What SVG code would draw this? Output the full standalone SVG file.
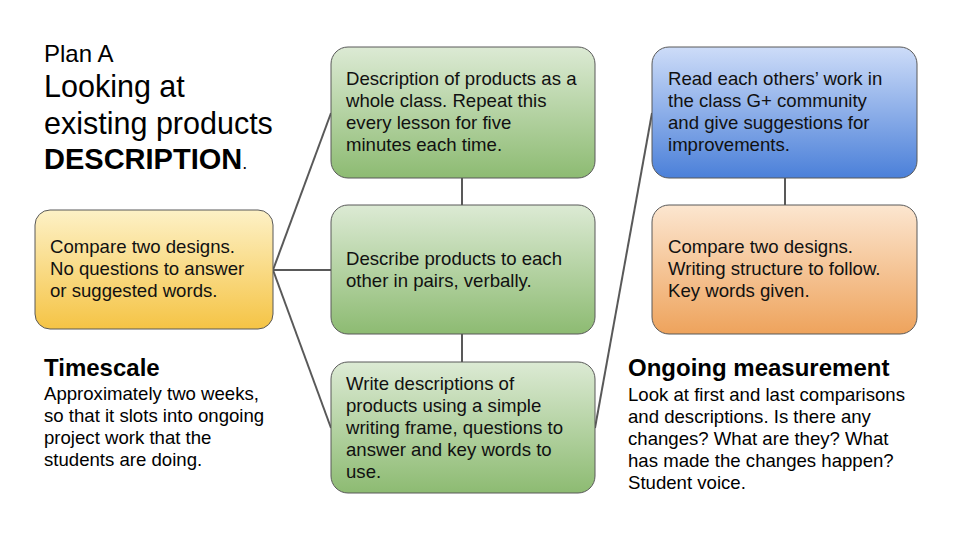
<svg xmlns="http://www.w3.org/2000/svg" width="960" height="540" viewBox="0 0 960 540">
<defs>
<linearGradient id="gY" x1="0" y1="0" x2="0" y2="1"><stop offset="0" stop-color="#fdf1c6"/><stop offset="1" stop-color="#f5c445"/></linearGradient>
<linearGradient id="gG" x1="0" y1="0" x2="0" y2="1"><stop offset="0" stop-color="#dcead4"/><stop offset="1" stop-color="#8dbb72"/></linearGradient>
<linearGradient id="gB" x1="0" y1="0" x2="0" y2="1"><stop offset="0" stop-color="#cddcf8"/><stop offset="1" stop-color="#4b80d9"/></linearGradient>
<linearGradient id="gO" x1="0" y1="0" x2="0" y2="1"><stop offset="0" stop-color="#fce6d0"/><stop offset="1" stop-color="#eea35c"/></linearGradient>
</defs>
<style>
text{font-family:"Liberation Sans",Arial,sans-serif;fill:#000}
.box{stroke:#595959;stroke-width:1}
.t{font-size:18.6px;fill:#111}
.h{font-size:24px;font-weight:bold}
.b{font-size:18.6px}
.conn line{stroke:#595959;stroke-width:2}
</style>
<rect width="960" height="540" fill="#fff"/>
<g id="title">
<text x="44" y="62" font-size="24">Plan A</text>
<text x="44" y="97" font-size="30.5">Looking at</text>
<text x="44" y="134" font-size="30.5">existing products</text>
<text x="44" y="169" font-size="29"><tspan font-weight="bold">DESCRIPTION</tspan><tspan font-size="18">.</tspan></text>
</g>
<g class="conn" id="connectors">
<line x1="273" y1="270" x2="331" y2="113"/>
<line x1="273" y1="270" x2="331" y2="270"/>
<line x1="273" y1="270" x2="331" y2="428"/>
<line x1="462" y1="178" x2="462" y2="205"/>
<line x1="462" y1="334" x2="462" y2="362"/>
<line x1="595" y1="428" x2="652" y2="113"/>
<line x1="785" y1="178" x2="785" y2="205"/>
</g>
<g id="yellow">
<rect class="box" x="35" y="210" width="238" height="119" rx="15" fill="url(#gY)"/>
<text class="t" x="50"><tspan x="50" y="253">Compare two designs.</tspan><tspan x="50" y="275">No questions to answer</tspan><tspan x="50" y="297">or suggested words.</tspan></text>
</g>
<g id="green1">
<rect class="box" x="331" y="47" width="264" height="131" rx="17" fill="url(#gG)"/>
<text class="t"><tspan x="346" y="85">Description of products as a</tspan><tspan x="346" y="107">whole class. Repeat this</tspan><tspan x="346" y="129">every lesson for five</tspan><tspan x="346" y="151">minutes each time.</tspan></text>
</g>
<g id="green2">
<rect class="box" x="331" y="205" width="264" height="129" rx="17" fill="url(#gG)"/>
<text class="t"><tspan x="346" y="265">Describe products to each</tspan><tspan x="346" y="287">other in pairs, verbally.</tspan></text>
</g>
<g id="green3">
<rect class="box" x="331" y="362" width="264" height="131" rx="17" fill="url(#gG)"/>
<text class="t"><tspan x="346" y="390">Write descriptions of</tspan><tspan x="346" y="412">products using a simple</tspan><tspan x="346" y="434">writing frame, questions to</tspan><tspan x="346" y="456">answer and key words to</tspan><tspan x="346" y="478">use.</tspan></text>
</g>
<g id="blue">
<rect class="box" x="652" y="47" width="265" height="131" rx="17" fill="url(#gB)"/>
<text class="t"><tspan x="668" y="85">Read each others’ work in</tspan><tspan x="668" y="107">the class G+ community</tspan><tspan x="668" y="129">and give suggestions for</tspan><tspan x="668" y="151">improvements.</tspan></text>
</g>
<g id="orange">
<rect class="box" x="652" y="205" width="265" height="129" rx="17" fill="url(#gO)"/>
<text class="t"><tspan x="668" y="253">Compare two designs.</tspan><tspan x="668" y="275">Writing structure to follow.</tspan><tspan x="668" y="297">Key words given.</tspan></text>
</g>
<g id="timescale">
<text class="h" x="44" y="376">Timescale</text>
<text class="b"><tspan x="44" y="400">Approximately two weeks,</tspan><tspan x="44" y="422">so that it slots into ongoing</tspan><tspan x="44" y="444">project work that the</tspan><tspan x="44" y="466">students are doing.</tspan></text>
</g>
<g id="measurement">
<text class="h" x="628" y="376">Ongoing measurement</text>
<text class="b"><tspan x="628" y="401">Look at first and last comparisons</tspan><tspan x="628" y="423">and descriptions. Is there any</tspan><tspan x="628" y="445">changes? What are they? What</tspan><tspan x="628" y="467">has made the changes happen?</tspan><tspan x="628" y="489">Student voice.</tspan></text>
</g>
</svg>
